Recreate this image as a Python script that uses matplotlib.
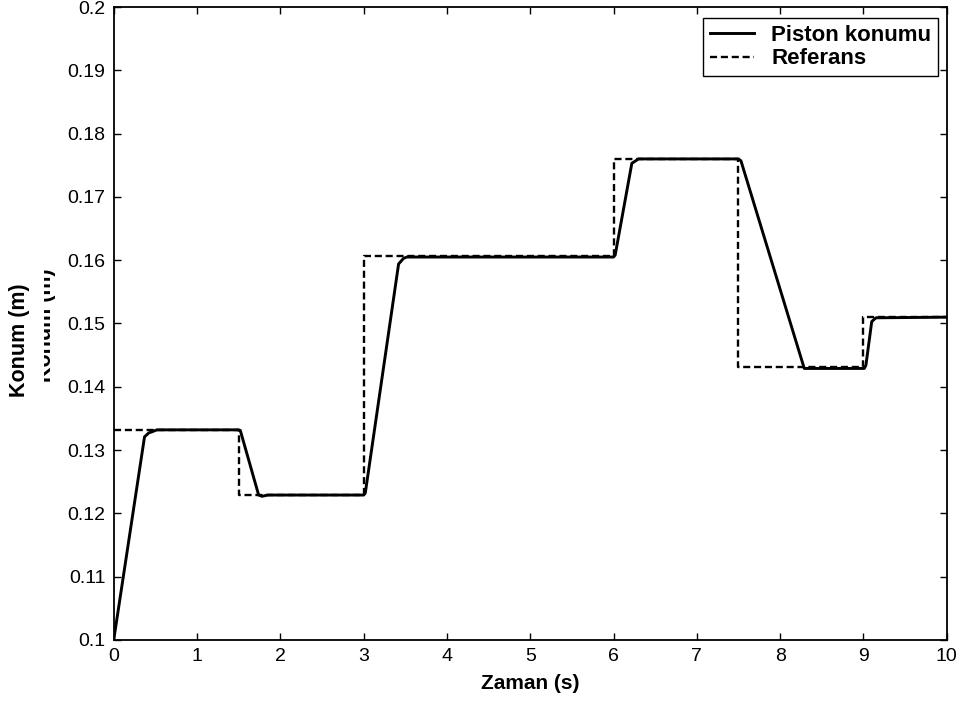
import matplotlib
matplotlib.use("Agg")
import matplotlib.pyplot as plt
from matplotlib.patches import Rectangle

# Piston konumu (okunan noktalar)
t_piston = [0, 0.37, 0.42, 0.52, 1.5, 1.52, 1.74, 1.78, 1.85, 3.0, 3.02, 3.42, 3.48, 3.52,
            6.0, 6.02, 6.22, 6.3, 7.5, 7.53, 8.29, 9.01, 9.03, 9.1, 9.15, 10]
y_piston = [0.1, 0.1321, 0.1327, 0.1332, 0.1332, 0.1331, 0.1229, 0.1227, 0.1229, 0.1229,
            0.1232, 0.1594, 0.1603, 0.1605, 0.1605, 0.1608, 0.1753, 0.1760, 0.1760, 0.1757,
            0.1429, 0.1429, 0.1434, 0.1503, 0.1509, 0.1510]

# Referans (basamak)
t_ref = [0, 1.5, 3, 6, 7.5, 9, 10]
y_ref = [0.1332, 0.1229, 0.1607, 0.1760, 0.1431, 0.1511, 0.1511]

x_ticks = list(range(0, 11))
y_ticks = [0.1 + 0.01 * i for i in range(11)]
y_tick_labels = ['0.1', '0.11', '0.12', '0.13', '0.14', '0.15', '0.16', '0.17', '0.18', '0.19', '0.2']

plt.rcParams['font.family'] = ['Liberation Sans', 'DejaVu Sans']

W, H = 964, 702
fig = plt.figure(figsize=(W / 100, H / 100), dpi=100)
ax = fig.add_axes([113.7 / W, 1 - 640 / H, (946.7 - 113.7) / W, (640 - 7) / H])

ax.plot(t_piston, y_piston, color='black', linewidth=2.1, label='Piston konumu')
ax.plot(t_ref, y_ref, color='black', linewidth=1.7, drawstyle='steps-post',
        dashes=[3.0, 1.6], label='Referans')

ax.set_xlim(0, 10)
ax.set_ylim(0.1, 0.2)
ax.set_xticks(x_ticks)
ax.set_yticks(y_ticks)
ax.set_yticklabels(y_tick_labels)
ax.tick_params(direction='in', length=5, width=1, top=True, right=True, labelsize=14)
ax.tick_params(axis='x', pad=6)
ax.tick_params(axis='y', pad=6)
for s in ax.spines.values():
    s.set_linewidth(1.3)

ax.set_xlabel('Zaman (s)', fontsize=15, fontweight='bold')
ax.xaxis.set_label_coords(0.5, -(674 - 640) / 633)
ax.set_ylabel('Konum (m)', fontsize=15.5, fontweight='bold')
ax.yaxis.set_label_coords(-(113.7 - 30) / 833, (640 - 340) / 633)

leg = ax.legend(loc='upper right', bbox_to_anchor=(1 - 9 / 833, 1 - 11 / 633),
                prop={'weight': 'bold', 'size': 16}, fancybox=False, edgecolor='black',
                framealpha=1, handlelength=2.0, handletextpad=0.75, borderpad=0.3,
                labelspacing=0.12, borderaxespad=0)
leg.get_frame().set_linewidth(1.0)

# ikinci (kısmen örtülü) eksen etiketi
fig.text(46 / W, 1 - 325 / H, 'Konum (m)', rotation=90, fontsize=15.5, fontweight='bold',
         ha='center', va='center', zorder=3)
fig.patches.append(Rectangle((34 / W, 0.3), 10 / W, 0.4, transform=fig.transFigure,
                             facecolor='white', edgecolor='none', zorder=5))

fig.savefig('out.png', dpi=100)
